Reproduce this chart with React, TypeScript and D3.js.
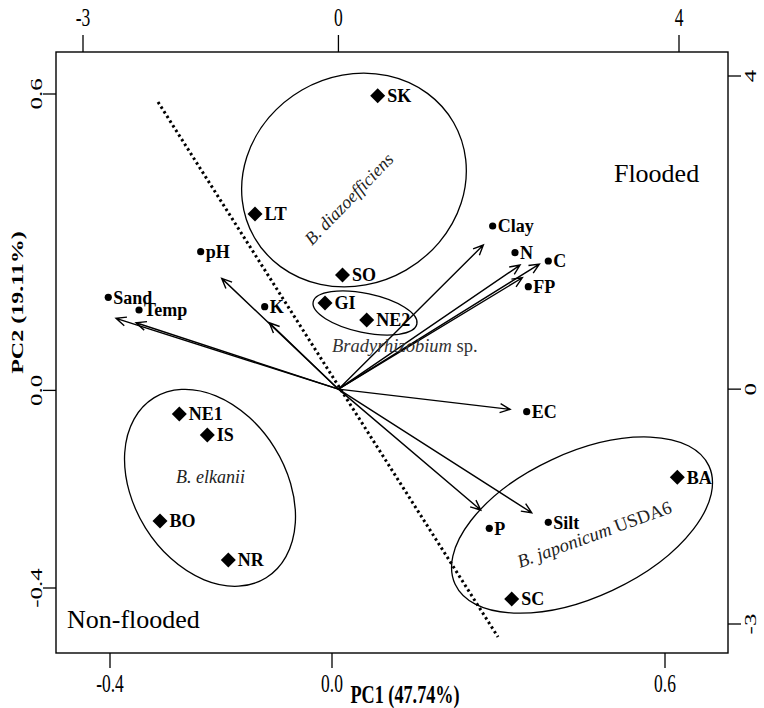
import React from "react";
import * as d3 from "d3";

const W = 764;
const H = 708;
const box = { left: 56, right: 728, top: 52, bottom: 653 };

// Observation (site) scores on the primary (bottom / left) axes
const siteNames = ["SK", "LT", "SO", "GI", "NE2", "NE1", "IS", "BO", "NR", "BA", "SC"];
const siteX = [0.0823, -0.1387, 0.0189, -0.0126, 0.0625, -0.2751, -0.2247, -0.3099, -0.1868, 0.6222, 0.3238];
const siteY = [0.5966, 0.3571, 0.2336, 0.1769, 0.1425, -0.0478, -0.0903, -0.2644, -0.3433, -0.1759, -0.4223];

// Variable label points on the primary axes
const varNames = ["Sand", "Temp", "pH", "K", "Clay", "N", "C", "FP", "EC", "P", "Silt"];
const varX = [-0.4031, -0.3477, -0.2366, -0.1213, 0.2895, 0.3297, 0.3897, 0.3537, 0.3508, 0.2834, 0.3897];
const varY = [0.1885, 0.1628, 0.2808, 0.1694, 0.3328, 0.2787, 0.2619, 0.2099, -0.0431, -0.2791, -0.267];

// Variable loadings (arrow tips) on the secondary (top / right) axes
const loadX = [-2.612, -2.377, -1.371, -0.812, 1.702, 2.133, 2.36, 2.16, 2.016, 1.671, 2.27];
const loadY = [0.904, 0.848, 1.415, 0.848, 1.841, 1.585, 1.598, 1.423, -0.258, -1.544, -1.579];

// Axis ticks
const primaryTicks = [-0.4, 0.0, 0.6];
const primaryTickLabels = ["-0.4", "0.0", "0.6"];
const secondaryTicks = [-3, 0, 4];
const secondaryTickLabels = ["-3", "0", "4"];

// Separating dotted line (primary units)
const sepX = [-0.3135, 0.2991];
const sepY = [0.5838, -0.4992];

// Group ellipses: centre in primary units
const groupNames = ["diazo", "brady", "elkanii", "japonicum"];
const groupCX = [0.0396, 0.0595, -0.2198, 0.4505];
const groupCY = [0.4259, 0.1567, -0.1972, -0.2726];

const xP = d3.scaleLinear().domain([-0.4, 0.6]).range([110, 665]);
const yP = d3.scaleLinear().domain([-0.4, 0.6]).range([588, 94]);
const xS = d3.scaleLinear().domain([-3, 4]).range([83, 679]);
const yS = d3.scaleLinear().domain([-3, 4]).range([624, 76]);

const ellipseStyle: Record<string, { rx: number; ry: number; rot: number }> = {
  diazo: { rx: 115, ry: 104, rot: -30 },
  brady: { rx: 53, ry: 19.5, rot: 12 },
  elkanii: { rx: 106, ry: 76, rot: 58 },
  japonicum: { rx: 140, ry: 72, rot: -25 },
};

const SERIF = "'Liberation Serif', 'Times New Roman', serif";
const TICK = 13;
const SQ = 0.7;

function Arrow({ x1, y1, x2, y2 }: { x1: number; y1: number; x2: number; y2: number }) {
  const ang = Math.atan2(y2 - y1, x2 - x1);
  const len = 11;
  const spread = (24 * Math.PI) / 180;
  const a1 = ang + Math.PI - spread;
  const a2 = ang + Math.PI + spread;
  const p = d3.path();
  p.moveTo(x1, y1);
  p.lineTo(x2, y2);
  p.moveTo(x2 + len * Math.cos(a1), y2 + len * Math.sin(a1));
  p.lineTo(x2, y2);
  p.lineTo(x2 + len * Math.cos(a2), y2 + len * Math.sin(a2));
  return <path d={p.toString()} fill="none" stroke="#000" strokeWidth={1.4} strokeLinejoin="miter" />;
}

export default function App() {
  const ox = xS(0);
  const oy = yS(0);
  return (
    <svg width={W} height={H} style={{ position: "absolute", left: 0, top: 0, background: "#fff" }} fontFamily={SERIF}>
      <rect x={0} y={0} width={W} height={H} fill="#fff" />
      {/* separating dotted line */}
      <line
        x1={xP(sepX[0])}
        y1={yP(sepY[0])}
        x2={xP(sepX[1])}
        y2={yP(sepY[1])}
        stroke="#000"
        strokeWidth={3}
        strokeDasharray="2.5,3"
      />
      {/* ellipses */}
      {groupNames.map((g, i) => {
        const s = ellipseStyle[g];
        return (
          <ellipse
            key={g}
            cx={0}
            cy={0}
            rx={s.rx}
            ry={s.ry}
            transform={`translate(${xP(groupCX[i])},${yP(groupCY[i])}) rotate(${s.rot})`}
            fill="none"
            stroke="#000"
            strokeWidth={1.3}
          />
        );
      })}
      {/* arrows */}
      {varNames.map((v, i) => (
        <Arrow key={v} x1={ox} y1={oy} x2={xS(loadX[i])} y2={yS(loadY[i])} />
      ))}
      {/* variable dots */}
      {varNames.map((v, i) => (
        <g key={v}>
          <circle cx={xP(varX[i])} cy={yP(varY[i])} r={3.6} fill="#000" />
          <text x={xP(varX[i]) + 5} y={yP(varY[i])} dy="0.35em" fontSize={18} fontWeight="bold">
            {v}
          </text>
        </g>
      ))}
      {/* site diamonds */}
      {siteNames.map((s, i) => {
        const x = xP(siteX[i]);
        const y = yP(siteY[i]);
        const r = 7.5;
        return (
          <g key={s}>
            <path d={`M${x},${y - r}L${x + r},${y}L${x},${y + r}L${x - r},${y}Z`} fill="#000" />
            <text x={x + 9.5} y={y} dy="0.36em" fontSize={18} fontWeight="bold">
              {s}
            </text>
          </g>
        );
      })}
      {/* group labels */}
      <text
        transform={`translate(${xP(0.0302)},${yP(0.388)}) rotate(-46)`}
        textAnchor="middle"
        dy="0.35em"
        fontSize={18}
        fontStyle="italic"
        fill="#222"
      >
        B. diazoefficiens
      </text>
      <text x={xP(0.0)} y={yP(0.078)} fontSize={18.5} fill="#333">
        <tspan fontStyle="italic">Bradyrhizobium</tspan> sp.
      </text>
      <text x={xP(-0.2811)} y={yP(-0.187)} fontSize={18} fontStyle="italic" fill="#222">
        B. elkanii
      </text>
      <text
        transform={`translate(${xP(0.3387)},${yP(-0.3594)}) rotate(-20)`}
        fontSize={18.5}
        fill="#222"
      >
        <tspan fontStyle="italic">B. japonicum</tspan> USDA6
      </text>
      {/* region labels */}
      <text x={xP(0.508)} y={yP(0.4215)} fontSize={26}>
        Flooded
      </text>
      <text x={xP(-0.4775)} y={yP(-0.4813)} fontSize={26}>
        Non-flooded
      </text>
      {/* frame */}
      <rect
        x={box.left}
        y={box.top}
        width={box.right - box.left}
        height={box.bottom - box.top}
        fill="none"
        stroke="#000"
        strokeWidth={1.4}
      />
      {/* bottom axis */}
      {primaryTicks.map((t, i) => (
        <g key={"b" + t}>
          <line x1={xP(t)} x2={xP(t)} y1={box.bottom} y2={box.bottom + TICK + 2} stroke="#000" strokeWidth={1.3} />
          <text transform={`translate(${xP(t)},${box.bottom + 39}) scale(${SQ},1)`} textAnchor="middle" fontSize={25}>
            {primaryTickLabels[i]}
          </text>
        </g>
      ))}
      <text transform={`translate(405,${H - 5}) scale(${SQ},1)`} textAnchor="middle" fontSize={26} fontWeight="bold">
        PC1 (47.74%)
      </text>
      {/* left axis */}
      {primaryTicks.map((t, i) => (
        <g key={"l" + t}>
          <line x1={box.left - TICK} x2={box.left} y1={yP(t)} y2={yP(t)} stroke="#000" strokeWidth={1.3} />
          <text
            transform={`translate(${box.left - 14},${yP(t)}) rotate(-90) scale(1,${SQ})`}
            textAnchor="middle"
            fontSize={25}
          >
            {primaryTickLabels[i]}
          </text>
        </g>
      ))}
      <text
        transform={`translate(${box.left - 33},${(box.top + box.bottom) / 2 - 50}) rotate(-90) scale(1,${SQ})`}
        textAnchor="middle"
        fontSize={24}
        fontWeight="bold"
      >
        PC2 (19.11%)
      </text>
      {/* top axis */}
      {secondaryTicks.map((t, i) => (
        <g key={"t" + t}>
          <line x1={xS(t)} x2={xS(t)} y1={box.top} y2={box.top - TICK - 4} stroke="#000" strokeWidth={1.3} />
          <text transform={`translate(${xS(t)},${box.top - 26}) scale(${SQ},1)`} textAnchor="middle" fontSize={25}>
            {secondaryTickLabels[i]}
          </text>
        </g>
      ))}
      {/* right axis */}
      {secondaryTicks.map((t, i) => (
        <g key={"r" + t}>
          <line x1={box.right} x2={box.right + TICK} y1={yS(t)} y2={yS(t)} stroke="#000" strokeWidth={1.3} />
          <text
            transform={`translate(${box.right + 28},${yS(t)}) rotate(-90) scale(1,${SQ})`}
            textAnchor="middle"
            fontSize={25}
          >
            {secondaryTickLabels[i]}
          </text>
        </g>
      ))}
    </svg>
  );
}
